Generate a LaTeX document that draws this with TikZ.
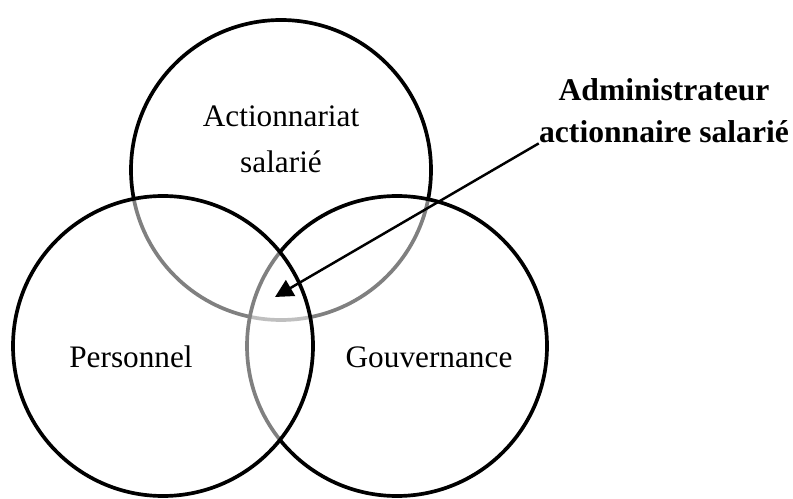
\documentclass[tikz,border=0pt]{standalone}
\usepackage{fontspec}
\setmainfont{Liberation Serif}
\usetikzlibrary{arrows.meta}

\begin{document}
\begin{tikzpicture}[
  set/.style={draw, circle, line width=2.1pt, fill=white, fill opacity=0.5, minimum size=6cm, inner sep=0pt},
  lbl/.style={align=center, inner sep=0pt, font=\fontsize{17.8}{26}\selectfont}
]
\useasboundingbox (0,0) rectangle (15.86,9.96);

\node[set] (act) at (5.62,6.56) {};
\node[set] (gouv) at (7.94,3.04) {};
\node[set] (pers) at (3.26,3.04) {};

\node[lbl] (tact) at (5.62,7.18) {Actionnariat\\salarié};
\node[lbl] (tpers) at (2.62,2.82) {Personnel};
\node[lbl] (tgouv) at (8.58,2.82) {Gouvernance};

\node[lbl, font=\fontsize{18}{23.8}\selectfont\bfseries] (admin) at (13.28,7.74) {Administrateur\\actionnaire salarié};
\coordinate (centre) at (5.5,4.02);
\path[draw, line width=1.4pt, -{Triangle[length=0.36cm,width=0.36cm]}] (admin.south west) -- (centre);
\end{tikzpicture}
\end{document}
